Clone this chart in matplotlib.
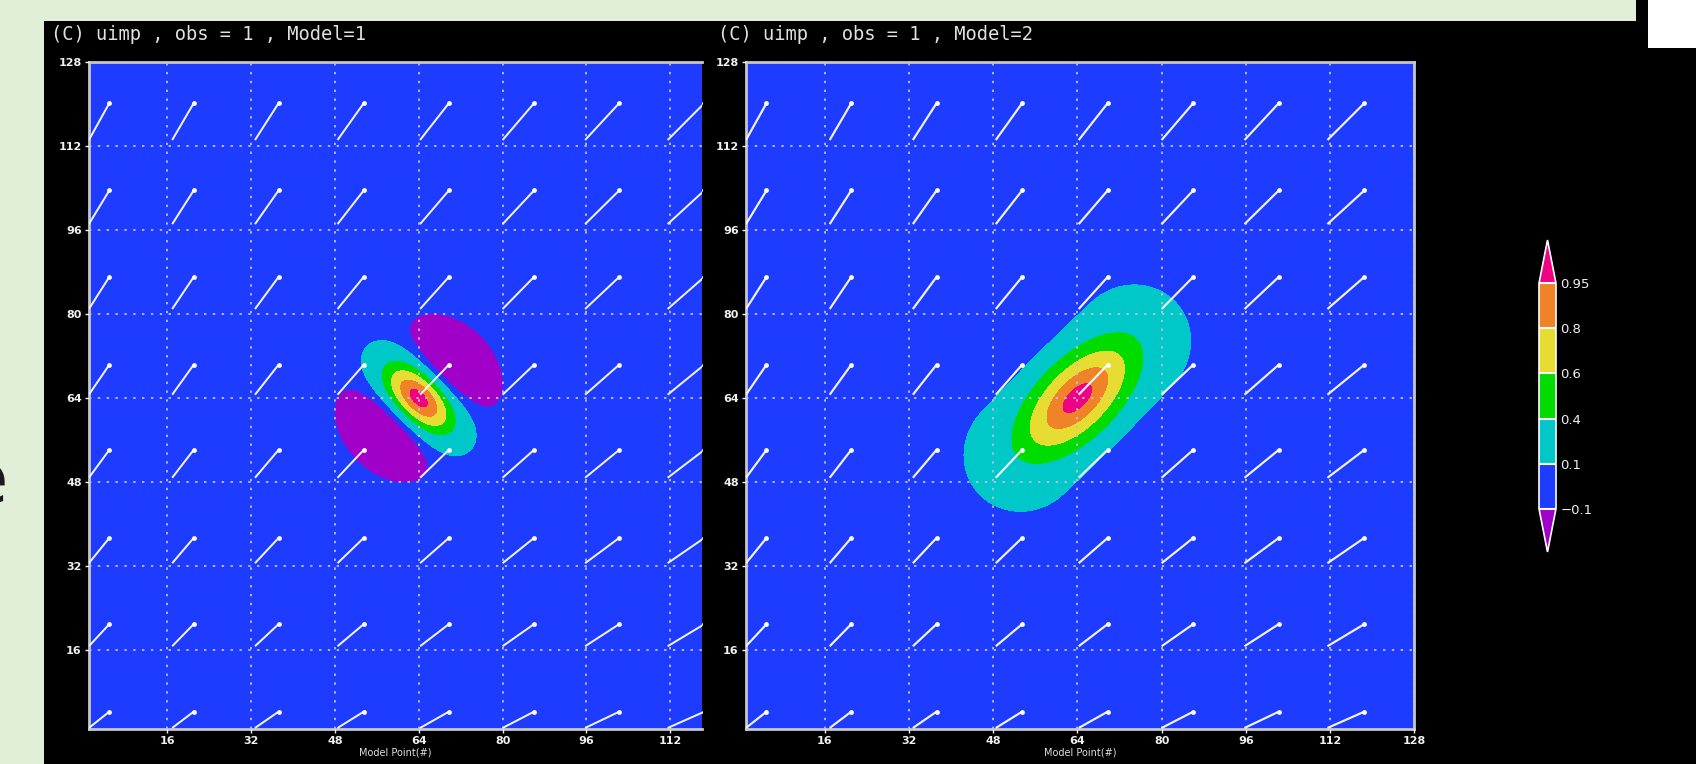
import numpy as np
import matplotlib
matplotlib.use("Agg")
import matplotlib.pyplot as plt
from matplotlib.colors import ListedColormap, BoundaryNorm
from matplotlib.patches import Rectangle

W, H = 1696, 764

# ---------------- data ----------------
levels = [-0.1, 0.1, 0.4, 0.6, 0.8, 0.95]
level_labels = ["\u22120.1", "0.1", "0.4", "0.6", "0.8", "0.95"]
fill_colors = ["#1e3cff", "#00c8c8", "#00dc00", "#e6dc32", "#f08228"]
under_color = "#a000c8"
over_color = "#f00082"

titles = ["(C) uimp , obs = 1 , Model=1", "(C) uimp , obs = 1 , Model=2"]
xlabel_text = "Model Point(#)"
left_xticks = [16, 32, 48, 64, 80, 96, 112]
right_xticks = [16, 32, 48, 64, 80, 96, 112, 128]
yticks = [16, 32, 48, 64, 80, 96, 112, 128]

x_first, x_last = 1, 128
left_x_visible = 118.0

# increment structures (centre and length scales)
obs_x, obs_y = 64.0, 64.0
m1_across = 5.7      # scale across flow (NE-SW), gives negative side lobes
m1_along = 6.5       # scale along NW-SE
m2_along = 10.8      # scale along flow (NE)
m2_across = 5.2      # scale across flow
m2_tail = 0.08
m2_cut_half_len = 15.0
m2_cut_radius = 11.3

# wind vectors
vec_cols = [3, 19, 35, 51, 67, 83, 99, 115]
vec_rows = [2.8, 18.9, 35.0, 51.5, 67.5, 84.0, 100.3, 116.6]
vec_u_by_col = [3.9, 4.1, 4.5, 5.0, 5.5, 6.0, 6.5, 7.0]
vec_v_by_row = [3.1, 4.2, 4.8, 5.3, 5.7, 6.1, 6.4, 7.0]

# ---------------- fields ----------------
xs = np.linspace(x_first, x_last, 640)
ys = np.linspace(x_first, x_last, 640)
X, Y = np.meshgrid(xs, ys)
P = ((X - obs_x) + (Y - obs_y)) / np.sqrt(2)    # NE
Q = (-(X - obs_x) + (Y - obs_y)) / np.sqrt(2)   # NW

F1 = (1 - P**2 / m1_across**2) * np.exp(-P**2 / (2 * m1_across**2)) \
     * np.exp(-Q**2 / (2 * m1_along**2))

r2 = P**2 / m2_along**2 + Q**2 / m2_across**2
G2 = np.exp(-(r2 / 2) / (1 + m2_tail * r2))
dist = np.sqrt(np.maximum(np.abs(P) - m2_cut_half_len, 0) ** 2 + Q**2)
Wcut = np.clip((m2_cut_radius + 0.5 - dist) / 1.0, 0, 1)
F2 = G2 * Wcut

cmap = ListedColormap(fill_colors)
cmap.set_under(under_color)
cmap.set_over(over_color)
norm = BoundaryNorm(levels, cmap.N)

VX, VY = np.meshgrid(vec_cols, vec_rows)
VU, VV = np.meshgrid(vec_u_by_col, vec_v_by_row)
VU = VU.astype(float)
VV = VV.astype(float)

# ---------------- figure ----------------
fig = plt.figure(figsize=(W / 100, H / 100), dpi=100)
fig.patch.set_facecolor("#e1eed8")


def px(x0, y0, x1, y1):
    return [x0 / W, 1 - y1 / H, (x1 - x0) / W, (y1 - y0) / H]


# black slide panel (behind the axes)
fig.patches.append(Rectangle((44 / W, 0), 1, 1 - 21 / H, transform=fig.transFigure,
                             facecolor="black", edgecolor="none", zorder=-3))
fig.patches.append(Rectangle((1636 / W, 1 - 21 / H), 1, 21 / H, transform=fig.transFigure,
                             facecolor="black", edgecolor="none", zorder=-3))
fig.patches.append(Rectangle((1648 / W, 1 - 48 / H), 1, 48 / H, transform=fig.transFigure,
                             facecolor="white", edgecolor="none", zorder=-2))
fig.text(9 / W, 1 - 483 / H, "e", ha="right", va="center", fontsize=52,
         color="#1a1a1a")

top_px, bot_px = 61.7, 729.3
axes_specs = [
    (px(88.6, top_px, 701.7, bot_px), F1, left_x_visible, left_xticks, titles[0], 51),
    (px(745.7, top_px, 1414.3, bot_px), F2, x_last, right_xticks, titles[1], 718),
]

cs_ref = None
for pos, F, xmax, xt, title, tx in axes_specs:
    ax = fig.add_axes(pos)
    ax.set_facecolor("#1e3cff")
    cs = ax.contourf(X, Y, F, levels=levels, cmap=cmap, norm=norm, extend="both", zorder=1)
    cs_ref = cs
    ax.set_xlim(x_first, xmax)
    ax.set_ylim(x_first, x_last)
    ax.set_xticks(xt)
    ax.set_yticks(yticks)
    ax.set_axisbelow(False)
    ax.grid(True, which="major", color="#c0c0dc", linestyle=(0, (1.3, 3.6)), linewidth=1.3)
    ax.tick_params(colors="#f0f0f0", length=3, width=1, labelsize=8, pad=2)
    for lab in ax.get_xticklabels() + ax.get_yticklabels():
        lab.set_fontweight("bold")
    for s in ax.spines.values():
        s.set_color("#c8c8c8")
        s.set_linewidth(2)
    if xmax < x_last:
        ax.spines["right"].set_visible(False)
    ax.quiver(VX, VY, VU, VV, angles="xy", scale_units="xy", scale=1, pivot="middle",
              color="#f4f4ff", width=0.0032, headwidth=1, headlength=0,
              headaxislength=0, zorder=4)
    ax.scatter(VX + VU / 2, VY + VV / 2, s=12, color="white", zorder=5, linewidths=0)
    ax.set_xlabel(xlabel_text, color="#e0e0e0", fontsize=7, labelpad=1)
    fig.text(tx / W, 1 - 35 / H, title, ha="left", va="center", fontsize=13.5,
             family="DejaVu Sans Mono", color="#e0e0e0")

# colorbar
cax = fig.add_axes(px(1539, 240, 1556, 552))
cb = fig.colorbar(cs_ref, cax=cax, extend="both", extendfrac=0.192, ticks=levels,
                  drawedges=True)
cb.ax.set_yticklabels(level_labels)
cb.ax.tick_params(length=0, colors="#f0f0f0", labelsize=9.5, pad=3)
cb.outline.set_edgecolor("white")
cb.outline.set_linewidth(1.2)
cb.dividers.set_color("white")
cb.dividers.set_linewidth(1.5)

fig.savefig("out.png", dpi=100, facecolor=fig.get_facecolor())
